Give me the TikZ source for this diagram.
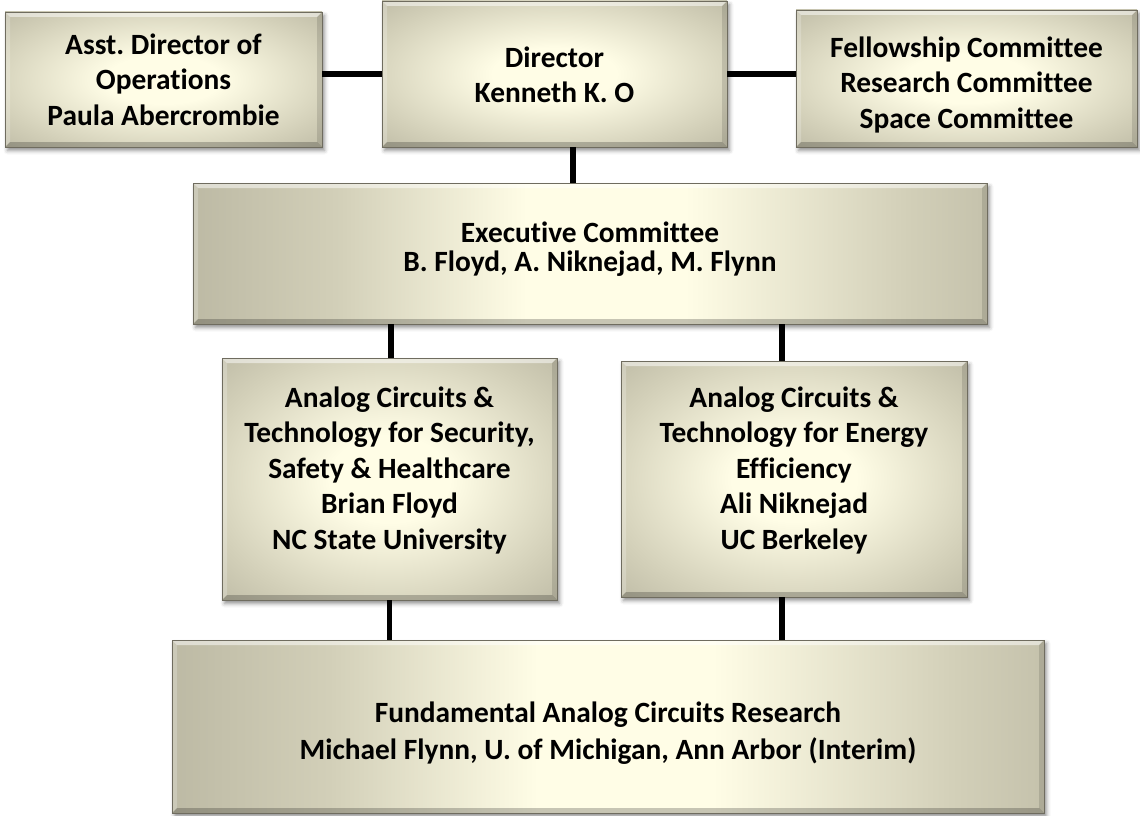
\documentclass[tikz,border=0pt]{standalone}
\usepackage{fontspec}
\setmainfont{Carlito}[Ligatures=NoCommon]
\usetikzlibrary{shadows.blur}
\frenchspacing

\definecolor{khaki}{RGB}{158,155,136}
\definecolor{midtone}{RGB}{210,207,184}
\definecolor{cream}{RGB}{255,253,230}

% soft glow in the middle of the smaller boxes
\pgfdeclareradialshading{boxglow}{\pgfpoint{0bp}{0bp}}{%
  color(0bp)=(cream); color(9bp)=(cream); color(28bp)=(midtone);
  color(50bp)=(khaki); color(72bp)=(khaki)}
% light band across the wide boxes
\pgfdeclarehorizontalshading{barglow}{100bp}{%
  color(0bp)=(khaki); color(12bp)=(khaki); color(34bp)=(midtone);
  color(46bp)=(cream); color(56bp)=(cream); color(70bp)=(midtone);
  color(90bp)=(khaki); color(100bp)=(khaki)}

\tikzset{
  bevel/.style={path picture={
    \def\bw{5pt}
    \fill[white,opacity=.5] (path picture bounding box.north west) -- (path picture bounding box.north east)
      -- ([xshift=-\bw,yshift=-\bw]path picture bounding box.north east)
      -- ([xshift=\bw,yshift=-\bw]path picture bounding box.north west) -- cycle;
    \fill[white,opacity=.22] (path picture bounding box.north west) -- ([xshift=\bw,yshift=-\bw]path picture bounding box.north west)
      -- ([xshift=\bw,yshift=\bw]path picture bounding box.south west)
      -- (path picture bounding box.south west) -- cycle;
    \fill[black,opacity=.12] (path picture bounding box.north east) -- ([xshift=-\bw,yshift=-\bw]path picture bounding box.north east)
      -- ([xshift=-\bw,yshift=\bw]path picture bounding box.south east)
      -- (path picture bounding box.south east) -- cycle;
    \fill[black,opacity=.22] (path picture bounding box.south west) -- ([xshift=\bw,yshift=\bw]path picture bounding box.south west)
      -- ([xshift=-\bw,yshift=\bw]path picture bounding box.south east)
      -- (path picture bounding box.south east) -- cycle;
  }},
  orgbox/.style={rectangle, inner sep=0pt,
    draw=khaki!70!black, line width=0.6pt,
    blur shadow={shadow xshift=2.5pt, shadow yshift=-3.5pt, shadow blur radius=4pt, shadow opacity=45},
    bevel},
  smallbox/.style={orgbox, shading=boxglow},
  widebox/.style={orgbox, shading=barglow},
  boxtext/.style={inner sep=0pt, align=center, font=\bfseries\fontsize{29.4}{35.5}\selectfont},
  link/.style={line width=5.5pt, black}
}

\begin{document}
\begin{tikzpicture}[x=1pt, y=1pt]
\useasboundingbox (0,0) rectangle (1140,-816);

% boxes
\node[smallbox, minimum width=317pt, minimum height=135pt] (asst) at (163.5,-79.5) {};
\node[smallbox, minimum width=345pt, minimum height=146pt] (dir) at (554.5,-74) {};
\node[smallbox, minimum width=341pt, minimum height=137pt] (fel) at (966.5,-78.5) {};
\node[widebox, minimum width=794pt, minimum height=141pt] (exec) at (590,-253.5) {};
\node[smallbox, minimum width=335pt, minimum height=242pt] (left) at (389.5,-479) {};
\node[smallbox, minimum width=346pt, minimum height=236pt] (right) at (794,-479) {};
\node[widebox, minimum width=872pt, minimum height=173pt] (bot) at (608,-726.5) {};

% box texts
\node[boxtext] (asstT) at ([yshift=0pt]asst.center) {Asst. Director of\\Operations\\Paula Abercrombie};
\node[boxtext] (dirT) at ([yshift=-1pt]dir.center) {Director\\Kenneth K. O};
\node[boxtext] (felT) at ([yshift=-6pt]fel.center) {Fellowship Committee\\Research Committee\\Space Committee};
\node[boxtext, font=\bfseries\fontsize{29.4}{29}\selectfont] (execT) at ([yshift=4pt]exec.center)
  {Executive Committee\\B. Floyd, A. Niknejad, M. Flynn};
\node[boxtext] (leftT) at ([yshift=9pt]left.center)
  {Analog Circuits \&\\Technology for Security,\\Safety \& Healthcare\\Brian Floyd\\NC State University};
\node[boxtext] (rightT) at ([yshift=9pt]right.center)
  {Analog Circuits \&\\Technology for Energy\\Efficiency\\Ali Niknejad\\UC Berkeley};
\node[boxtext, font=\bfseries\fontsize{29.4}{37}\selectfont] (botT) at ([yshift=-7pt]bot.center)
  {Fundamental Analog Circuits Research\\Michael Flynn, U. of Michigan, Ann Arbor (Interim)};

% connectors
\draw[link] (asst.east |- dir.west) -- (dir.west);
\draw[link] (dir.east) -- (fel.west |- dir.east);
\draw[link] ([xshift=18.5pt]dir.south) -- ([xshift=18.5pt]dir.south |- exec.north);
\draw[link] ([xshift=1.5pt]left.north) -- ([xshift=1.5pt]left.north |- exec.south);
\draw[link] ([xshift=-12pt]right.north) -- ([xshift=-12pt]right.north |- exec.south);
\draw[link] (left.south) -- (left.south |- bot.north);
\draw[link] ([xshift=-12pt]right.south) -- ([xshift=-12pt]right.south |- bot.north);
\end{tikzpicture}
\end{document}
